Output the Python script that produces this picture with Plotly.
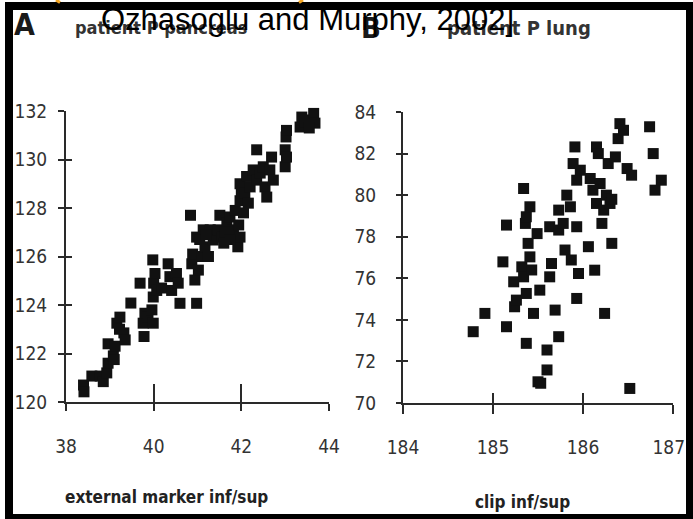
import plotly.graph_objects as go

# Panel A: patient P pancreas
a_x = [38.40, 38.41, 38.59, 38.78, 38.85, 38.93, 38.96, 38.96, 39.08, 39.12, 39.10,
       39.16, 39.23, 39.32, 39.35, 39.22, 39.48, 39.69, 39.78, 39.76, 39.80, 39.87,
       39.96, 39.99, 39.99, 40.00, 39.98, 40.03, 40.07, 40.18, 40.33, 40.37, 40.41,
       40.52, 40.56, 40.60, 40.84, 40.87, 40.89, 40.94, 40.98, 40.98, 41.02, 41.10,
       41.13, 41.17, 41.25, 41.29, 41.36, 41.47, 41.51, 41.55, 41.60, 41.67, 41.74,
       41.82, 41.86, 41.92, 41.97, 41.97, 42.00, 41.97, 42.08, 42.12, 42.16, 42.20,
       42.27, 42.35, 42.35, 42.43, 42.50, 42.54, 42.58, 42.65, 42.69, 42.73, 43.00,
       43.00, 43.02, 43.03, 43.03, 43.34, 43.38, 43.45, 43.60, 43.65, 43.68, 43.55,
       41.05, 41.20, 41.62, 41.75, 41.94, 42.05]
a_y = [120.70, 120.42, 121.07, 121.07, 120.84, 121.20, 121.60, 122.40, 121.90, 122.30, 121.75,
       123.25, 123.50, 122.85, 122.56, 123.00, 124.08, 124.90, 122.70, 123.25, 123.66, 123.50,
       123.80, 123.25, 124.33, 124.90, 125.86, 125.30, 124.60, 124.70, 125.70, 125.17, 124.60,
       125.30, 124.90, 124.07, 127.70, 125.70, 126.10, 125.03, 124.07, 126.80, 125.44, 126.00,
       127.10, 126.40, 126.00, 127.10, 126.68, 127.10, 127.70, 126.80, 126.55, 127.37, 127.63,
       127.10, 127.90, 126.40, 126.80, 128.30, 128.70, 129.00, 128.60, 129.30, 128.20, 128.87,
       129.57, 130.40, 129.15, 129.44, 129.70, 128.87, 128.45, 129.57, 130.10, 129.15, 129.70,
       130.40, 130.93, 131.20, 130.10, 131.34, 131.75, 131.55, 131.63, 131.90, 131.50, 131.30,
       126.70, 126.90, 127.00, 126.70, 127.30, 127.80]

# Panel B: patient P lung
b_x = [184.78, 184.91, 185.11, 185.15, 185.15, 185.23, 185.24, 185.26, 185.32, 185.34,
       185.36, 185.37, 185.41, 185.37, 185.34, 185.39, 185.41, 185.43, 185.37, 185.45,
       185.49, 185.52, 185.50, 185.53, 185.60, 185.60, 185.63, 185.65, 185.63, 185.69,
       185.73, 185.73, 185.73, 185.78, 185.80, 185.82, 185.86, 185.87, 185.91, 185.89,
       185.93, 185.93, 185.95, 185.93, 185.97, 186.06, 186.08, 186.13, 186.15, 186.17,
       186.15, 186.19, 186.21, 186.23, 186.24, 186.26, 186.28, 186.30, 186.32, 186.36,
       186.39, 186.41, 186.45, 186.49, 186.54, 186.52, 186.74, 186.78, 186.80, 186.87,
       186.32, 186.11]
b_y = [73.43, 74.31, 76.79, 78.56, 73.67, 75.83, 74.63, 74.95, 76.55, 80.32,
       78.64, 78.96, 79.44, 72.87, 76.07, 77.68, 77.03, 76.40, 75.27, 74.31,
       78.15, 75.43, 71.02, 70.95, 71.59, 72.55, 76.07, 76.71, 78.48, 74.47,
       73.19, 78.32, 79.28, 78.64, 77.36, 80.00, 79.44, 76.88, 82.32, 81.52,
       78.48, 75.03, 76.23, 80.72, 81.20, 77.52, 80.80, 76.39, 82.32, 82.00,
       79.60, 80.56, 78.64, 79.28, 74.31, 80.00, 81.52, 79.60, 77.68, 81.84,
       82.72, 83.44, 83.12, 81.28, 80.96, 70.70, 83.29, 82.00, 80.24, 80.72,
       79.80, 80.24]

a_xticks = [38, 40, 42, 44]
a_yticks = [120, 122, 124, 126, 128, 130, 132]
b_xticks = [184, 185, 186, 187]
b_xticktext = ["184", "185", "186", "187\u2002"]
b_yticks = [70, 72, 74, 76, 78, 80, 82, 84]

W, H = 693, 519
def px(x):
    return x / W
def py(y):
    return 1 - y / H

NARROW = "Liberation Sans Narrow, DejaVu Sans Condensed, Roboto Condensed, Liberation Sans, sans-serif"
TICKFONT = dict(family=NARROW, size=19, color="#333333")
LINEC = "#2a2a2a"

fig = go.Figure()
mk = dict(symbol="square", size=11, color="#111111", line=dict(width=0))
fig.add_trace(go.Scatter(x=a_x, y=a_y, mode="markers", marker=mk, xaxis="x", yaxis="y", cliponaxis=False))
fig.add_trace(go.Scatter(x=b_x, y=b_y, mode="markers", marker=mk, xaxis="x2", yaxis="y2", cliponaxis=False))

ax_common = dict(showgrid=False, zeroline=False, showline=True, linecolor=LINEC, linewidth=2,
                 tickcolor=LINEC, tickwidth=2, tickfont=TICKFONT, automargin=False, fixedrange=True,
                 ticklabeloverflow="allow")
in_common = dict(showgrid=False, zeroline=False, showline=False, ticks="inside", tickcolor=LINEC,
                 tickwidth=2, showticklabels=False, automargin=False, fixedrange=True)

dA_x = [px(66), px(329)]
dA_y = [py(402), py(111)]
dB_x = [px(403), px(673)]
dB_y = [py(403), py(112)]

fig.update_layout(
    width=W, height=H, margin=dict(l=0, r=0, t=0, b=0),
    paper_bgcolor="white", plot_bgcolor="white", showlegend=False,
    xaxis=dict(domain=dA_x, range=[38, 44], tickvals=a_xticks, ticks="outside", ticklen=7,
               ticklabelstandoff=19, anchor="y", **ax_common),
    yaxis=dict(domain=dA_y, range=[120, 132], tickvals=a_yticks, ticks="outside", ticklen=6,
               ticklabelstandoff=7, anchor="x", **ax_common),
    xaxis2=dict(domain=dB_x, range=[184, 187], tickvals=b_xticks, ticktext=b_xticktext,
                ticks="outside", ticklen=9, ticklabelstandoff=17, anchor="y2", **ax_common),
    yaxis2=dict(domain=dB_y, range=[70, 84], tickvals=b_yticks, ticks="outside", ticklen=5,
                ticklabelstandoff=16, anchor="x2", **ax_common),
    xaxis3=dict(overlaying="x", anchor="y", range=[38, 44], tickvals=a_xticks, ticklen=18, **in_common),
    yaxis3=dict(overlaying="y", anchor="x", range=[120, 132], tickvals=a_yticks, ticklen=6, **in_common),
    xaxis4=dict(overlaying="x2", anchor="y2", range=[184, 187], tickvals=b_xticks, ticklen=10, **in_common),
    yaxis4=dict(overlaying="y2", anchor="x2", range=[70, 84], tickvals=b_yticks, ticklen=5, **in_common),
)
fig.add_trace(go.Scatter(x=[None], y=[None], xaxis="x3", yaxis="y3", hoverinfo="skip"))
fig.add_trace(go.Scatter(x=[None], y=[None], xaxis="x4", yaxis="y4", hoverinfo="skip"))

anns = [
    dict(text="<b>A</b>", x=px(24), y=py(25), font=dict(family=NARROW, size=30, color="#1a1a1a")),
    dict(text="<b>patient P pancreas</b>", x=px(161), y=py(27), font=dict(family=NARROW, size=18, color="#333333")),
    dict(text="<b>B</b>", x=px(371), y=py(28), font=dict(family=NARROW, size=29, color="#1a1a1a")),
    dict(text="<b>patient P lung</b>", x=px(519), y=py(28), font=dict(family=NARROW, size=20, color="#333333")),
    dict(text="<b>external marker inf/sup</b>", x=px(166), y=py(497), font=dict(family=NARROW, size=17, color="#222222")),
    dict(text="<b>clip inf/sup</b>", x=px(522), y=py(502), font=dict(family=NARROW, size=17, color="#222222")),
    dict(text="Ozhasoglu and Murphy, 2002]", x=px(307), y=py(19), font=dict(family="Liberation Sans, Arial, sans-serif", size=31, color="#000000")),
]
for a in anns:
    a.update(xref="paper", yref="paper", showarrow=False, xanchor="center", yanchor="middle")
fig.update_layout(annotations=anns)

shapes = [
    dict(type="rect", x0=px(5), x1=px(13), y0=py(519), y1=py(2)),
    dict(type="rect", x0=px(5), x1=px(693), y0=py(10), y1=py(2)),
    dict(type="rect", x0=px(686), x1=px(693), y0=py(519), y1=py(2)),
    dict(type="rect", x0=px(5), x1=px(693), y0=py(519), y1=py(514)),
]
for s in shapes:
    s.update(xref="paper", yref="paper", fillcolor="black", line=dict(width=0), layer="above")
shapes += [
    dict(type="line", xref="paper", yref="paper", x0=px(56), x1=px(60), y0=py(0), y1=py(2.5),
         line=dict(color="#f5a623", width=3)),
    dict(type="line", xref="paper", yref="paper", x0=px(303), x1=px(299), y0=py(0), y1=py(2.5),
         line=dict(color="#f5a623", width=3)),
]
fig.update_layout(shapes=shapes)

fig.write_html("out.html", config={"displayModeBar": False},
               post_script="document.body.style.margin='0px';document.body.style.overflow='hidden';")
